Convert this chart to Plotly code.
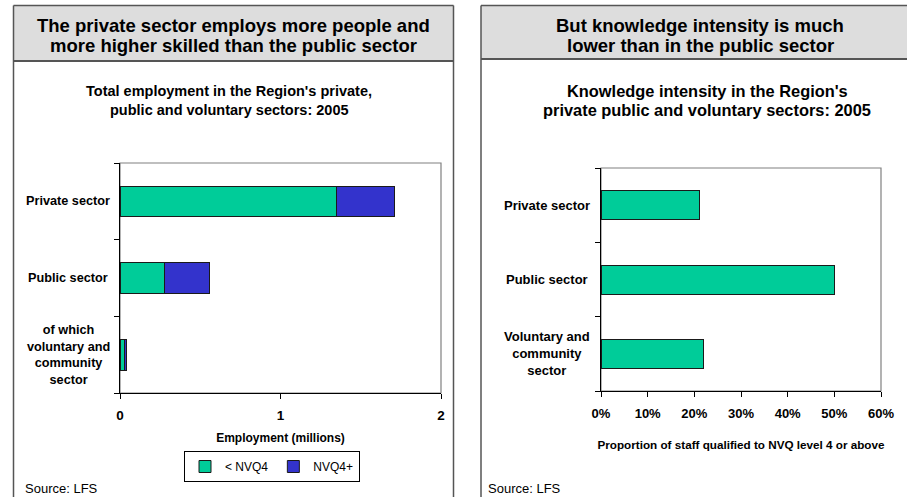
import plotly.graph_objects as go

# ---- data ----
sectors_left = ["Private sector", "Public sector", "of which<br>voluntary and<br>community<br>sector"]
below_nvq4 = [1.35, 0.28, 0.031]       # millions employed, below NVQ level 4
nvq4_plus = [0.36, 0.275, 0.009]       # millions employed, NVQ level 4 or above

sectors_right = ["Private sector", "Public sector", "Voluntary and<br>community<br>sector"]
knowledge_share = [0.21, 0.50, 0.22]   # share of staff qualified to NVQ4+

left_ticks = [0, 1, 2]
right_ticks = [0, 0.1, 0.2, 0.3, 0.4, 0.5, 0.6]

W, H = 907, 497
FONT = "Liberation Sans, Arial, sans-serif"
GREEN = "#00CC99"
BLUE = "#3333CC"
EDGE = "#555555"


def px(x):
    return x / W


def py(y):
    return 1 - y / H


fig = go.Figure()

cats = [0, 1, 2]
fig.add_trace(go.Bar(
    y=cats, x=below_nvq4, orientation="h", name="&lt; NVQ4",
    marker=dict(color=GREEN, line=dict(color="#1a1a1a", width=1)),
    width=0.4, xaxis="x", yaxis="y",
))
fig.add_trace(go.Bar(
    y=cats, x=nvq4_plus, orientation="h", name="NVQ4+",
    marker=dict(color=BLUE, line=dict(color="#1a1a1a", width=1)),
    width=0.4, xaxis="x", yaxis="y",
))
fig.add_trace(go.Bar(
    y=cats, x=knowledge_share, orientation="h", name="NVQ4+ share",
    marker=dict(color=GREEN, line=dict(color="#1a1a1a", width=1)),
    width=0.39, xaxis="x2", yaxis="y2", showlegend=False,
))

axis_common = dict(
    showgrid=False, zeroline=False, showline=True, linecolor="black",
    linewidth=1, ticks="outside", ticklen=5, tickcolor="black",
    automargin=False,
)

fig.update_layout(
    width=W, height=H, autosize=False,
    margin=dict(l=0, r=0, t=0, b=0, pad=0, autoexpand=False),
    paper_bgcolor="white", plot_bgcolor="white",
    barmode="stack",
    font=dict(family=FONT, color="black"),
    xaxis=dict(
        domain=[px(120), px(441)], range=[0, 2], tickvals=left_ticks,
        tickfont=dict(size=13.5, family=FONT, weight="bold"),
        ticklabelstandoff=5,
        title=dict(text="<b>Employment (millions)</b>", font=dict(size=12), standoff=11),
        anchor="y", **axis_common,
    ),
    yaxis=dict(
        domain=[py(393), py(163)], range=[2.5, -0.5], tickvals=[-0.5, 0.5, 1.5, 2.5],
        showticklabels=False, anchor="x", **axis_common,
    ),
    xaxis2=dict(
        domain=[px(601), px(881)], range=[0, 0.6], tickvals=right_ticks,
        tickformat=".0%",
        tickfont=dict(size=13, family=FONT, weight="bold"),
        ticklabelstandoff=5,
        title=dict(text="<b>Proportion of staff qualified to NVQ level 4 or above</b>",
                   font=dict(size=11.7), standoff=21),
        anchor="y2", **axis_common,
    ),
    yaxis2=dict(
        domain=[py(391), py(168)], range=[2.5, -0.5], tickvals=[-0.5, 0.5, 1.5, 2.5],
        showticklabels=False, anchor="x2", **axis_common,
    ),
    legend=dict(
        orientation="h", x=px(272), xanchor="center", y=py(451), yanchor="top",
        bordercolor="black", borderwidth=1, font=dict(size=12, family=FONT),
        itemwidth=30, tracegroupgap=0, bgcolor="white", traceorder="normal",
    ),
    showlegend=True,
)

shapes = []
# panel header bands
shapes.append(dict(type="rect", xref="paper", yref="paper",
                   x0=px(13.5), x1=px(453.5), y0=py(61), y1=py(5.5),
                   fillcolor="#DDDDDD", line=dict(width=0), layer="below"))
shapes.append(dict(type="rect", xref="paper", yref="paper",
                   x0=px(481), x1=1, y0=py(59), y1=py(5.5),
                   fillcolor="#DDDDDD", line=dict(width=0), layer="below"))


def seg(x0, y0, x1, y1, width=1.5):
    return dict(type="line", xref="paper", yref="paper",
                x0=px(x0), x1=px(x1), y0=py(y0), y1=py(y1),
                line=dict(color=EDGE, width=width), layer="below")


# panel outlines
shapes += [
    seg(13.5, 5.5, 453.5, 5.5), seg(13.5, 5.5, 13.5, H), seg(453.5, 5.5, 453.5, H),
    seg(13.5, 61, 453.5, 61, 2),
    seg(481, 5.5, W, 5.5), seg(481, 5.5, 481, H),
    seg(481, 59, W, 59, 2),
]
# plot-area frames (grey top/right edges)
for xr, yr in [("x domain", "y domain"), ("x2 domain", "y2 domain")]:
    shapes.append(dict(type="rect", xref=xr, yref=yr, x0=0, x1=1, y0=0, y1=1,
                       line=dict(color="#808080", width=1.2), layer="below"))
fig.update_layout(shapes=shapes)


def text(x, y, s, size, anchor="center"):
    return dict(x=px(x), y=py(y), xref="paper", yref="paper", text=s,
                showarrow=False, font=dict(size=size), xanchor=anchor,
                yanchor="middle")


ann = [
    text(233.5, 25, "<b>The private sector employs more people and</b>", 18.5),
    text(233.5, 45.5, "<b>more higher skilled than the public sector</b>", 18.5),
    text(700, 25, "<b>But knowledge intensity is much</b>", 18.5),
    text(700, 45.5, "<b>lower than in the public sector</b>", 18.5),
    text(229, 90.5, "<b>Total employment in the Region's private,</b>", 14.5),
    text(229, 110, "<b>public and voluntary sectors: 2005</b>", 14.5),
    text(707, 90.5, "<b>Knowledge intensity in the Region's</b>", 16.4),
    text(707, 110, "<b>private public and voluntary sectors: 2005</b>", 16.4),
    text(23, 488, "Source: LFS", 13, "left"),
    text(486, 488, "Source: LFS", 13, "left"),
]
# category labels, centred under each other
for i, lab in enumerate(sectors_left):
    ann.append(dict(x=px(68), y=i, xref="paper", yref="y", text=f"<b>{lab}</b>",
                    showarrow=False, font=dict(size=12.7), xanchor="center",
                    yanchor="middle", align="center"))
for i, lab in enumerate(sectors_right):
    ann.append(dict(x=px(547), y=i, xref="paper", yref="y2", text=f"<b>{lab}</b>",
                    showarrow=False, font=dict(size=13), xanchor="center",
                    yanchor="middle", align="center"))
fig.update_layout(annotations=ann)

fig.write_html("out.html")
